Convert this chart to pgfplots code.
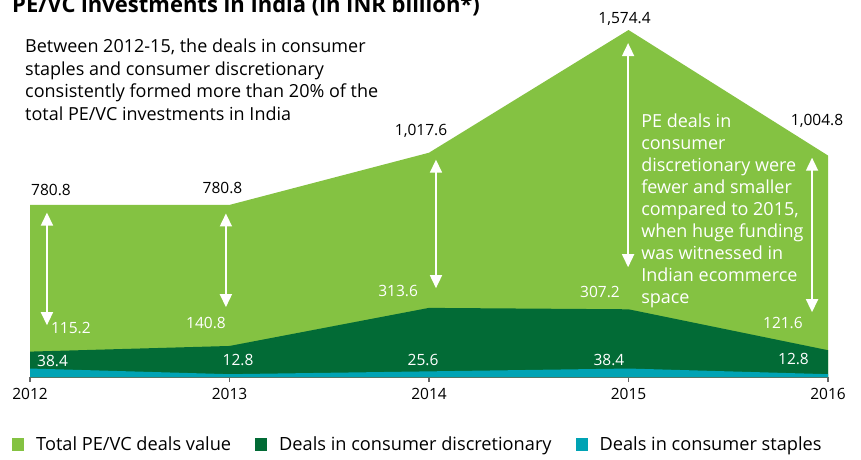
\documentclass[border=0pt]{standalone}
\usepackage{fontspec}
\setmainfont{Open Sans}
\usepackage{pgfplots}
\pgfplotsset{compat=1.18}
\usetikzlibrary{arrows.meta}

\definecolor{totalgreen}{HTML}{84C242}
\definecolor{discgreen}{HTML}{026B36}
\definecolor{stapteal}{HTML}{00A3B4}
\definecolor{axisgray}{HTML}{666666}

\newcommand{\lbl}{\fontsize{15.5}{18}\selectfont}
\newcommand{\note}{\fontsize{18}{22}\selectfont}

\begin{document}
\begin{tikzpicture}[
  dbl/.style={white, line width=1.6pt,
    {Triangle[width=12pt,length=13pt]}-{Triangle[width=12pt,length=13pt]}}
]
\useasboundingbox (0,0) rectangle (861pt,459pt);
\begin{axis}[
  at={(30pt,82pt)}, anchor=south west,
  scale only axis, width=798pt, height=347pt,
  xmin=2012, xmax=2016, ymin=0, ymax=1574.4,
  axis y line=none, axis x line*=bottom,
  x axis line style={draw=axisgray, line width=2pt, -},
  xtick={2012,2013,2014,2015,2016},
  xticklabels={2012,2013,2014,2015,2016},
  tick align=outside, major tick length=5pt,
  tick style={draw=axisgray, line width=1.2pt},
  xticklabel style={font=\lbl, yshift=-3pt},
  ytick=\empty,
  clip=false,
  legend columns=-1,
  legend style={at={(0,0)}, anchor=west, xshift=-18pt, yshift=-67pt,
    draw=none, fill=none, inner sep=0pt, font=\fontsize{18.2}{22}\selectfont,
    nodes={inner sep=0pt},
    /tikz/every odd column/.append style={column sep=12pt},
    /tikz/every even column/.append style={column sep=24pt}},
  legend image code/.code={\fill[#1] (0pt,-6.5pt) rectangle (12pt,6.5pt);},
]
\addplot[fill=totalgreen, draw=none] coordinates {
  (2012,780.8) (2013,780.8) (2014,1017.6) (2015,1574.4) (2016,1004.8)
} \closedcycle;
\addlegendentry{Total PE/VC deals value}
\addplot[fill=discgreen, draw=none] coordinates {
  (2012,115.2) (2013,140.8) (2014,313.6) (2015,307.2) (2016,121.6)
} \closedcycle;
\addlegendentry{Deals in consumer discretionary}
\addplot[fill=stapteal, draw=none] coordinates {
  (2012,38.4) (2013,12.8) (2014,25.6) (2015,38.4) (2016,12.8)
} \closedcycle;
\addlegendentry{Deals in consumer staples}

% value labels
\begin{scope}[font=\lbl]
\node at (axis cs:2012.105,850) {780.8};
\node at (axis cs:2012.965,859) {780.8};
\node at (axis cs:2013.96,1117) {1,017.6};
\node at (axis cs:2014.98,1624) {1,574.4};
\node at (axis cs:2015.945,1162) {1,004.8};
\end{scope}
\begin{scope}[font=\lbl, text=white]
\node at (axis cs:2012.205,222) {115.2};
\node at (axis cs:2012.882,244) {140.8};
\node at (axis cs:2013.845,389) {313.6};
\node at (axis cs:2014.857,384) {307.2};
\node at (axis cs:2015.774,244) {121.6};
\node at (axis cs:2012.113,72) {38.4};
\node at (axis cs:2013.043,77) {12.8};
\node at (axis cs:2013.97,77) {25.6};
\node at (axis cs:2014.902,77) {38.4};
\node at (axis cs:2015.827,81) {12.8};
\end{scope}

% arrows
\draw[dbl] (axis cs:2012.085,746) -- (axis cs:2012.085,235);
\draw[dbl] (axis cs:2012.982,742) -- (axis cs:2012.982,317);
\draw[dbl] (axis cs:2014.035,986) -- (axis cs:2014.035,403);
\draw[dbl] (axis cs:2014.998,1515) -- (axis cs:2014.998,498);
\draw[dbl] (axis cs:2015.92,995) -- (axis cs:2015.92,294);

% note on the right
\node[anchor=north west, align=left, font=\note, inner sep=0pt, text=white]
  at (axis cs:2015.063,1197) {PE deals in\\consumer\\discretionary were\\fewer and smaller\\compared to 2015,\\when huge funding\\was witnessed in\\Indian ecommerce\\space};
\end{axis}
\node[anchor=north west, inner sep=0pt, font=\fontsize{18}{22.5}\selectfont, align=left]
  at (25pt,420pt) {Between 2012-15, the deals in consumer\\staples and consumer discretionary\\consistently formed more than 20\% of the\\total PE/VC investments in India};
\node[anchor=base west, inner sep=0pt, font=\fontsize{22}{24}\bfseries\selectfont]
  at (12pt,446pt) {PE/VC investments in India (in INR billion*)};
\end{tikzpicture}
\end{document}
